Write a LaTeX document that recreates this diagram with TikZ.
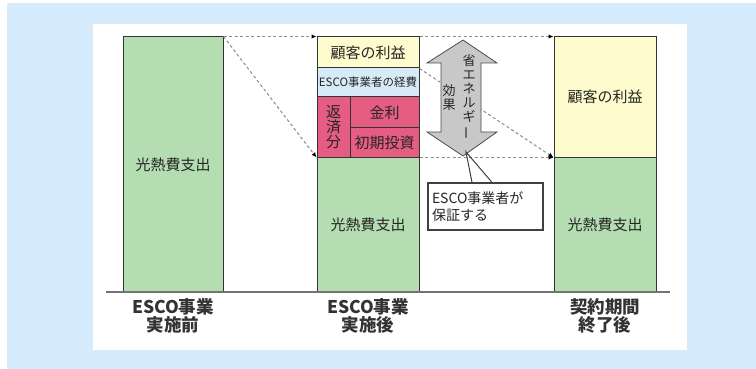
\documentclass[tikz,border=0pt]{standalone}
\usepackage{fontspec}
\usepackage{graphicx}
\setmainfont{Noto Sans CJK JP}
\usetikzlibrary{positioning,arrows.meta,calc}

\definecolor{bgblue}{RGB}{214,236,252}
\definecolor{bargreen}{RGB}{181,221,178}
\definecolor{custyel}{RGB}{254,252,206}
\definecolor{escoblue}{RGB}{215,234,247}
\definecolor{pinkred}{RGB}{229,93,128}
\definecolor{arrowgray}{RGB}{200,200,200}

\tikzset{
    seg/.style={draw=black!80, line width=1pt, inner sep=0pt, text=black!85,
        font=\fontsize{15}{15}\selectfont},
    dashline/.style={draw=black!45, line width=1pt, dash pattern=on 3pt off 2.5pt,
        -{Latex[length=5pt,width=4.5pt,black]}},
    axislabel/.style={align=center, inner sep=0pt, text=black!80,
        font=\fontsize{17.5}{18}\selectfont\bfseries},
    arrowtext/.style={align=center, inner sep=0pt, text=black!85,
        font=\fontsize{13}{14}\selectfont},
    callbox/.style={draw=black!75, line width=1.3pt, fill=white, inner sep=4pt,
        align=left, text width=107pt, minimum height=47pt, text=black!85,
        font=\fontsize{14}{17}\selectfont},
}

\begin{document}
\begin{tikzpicture}[x=1pt, y=-1pt]
    \useasboundingbox (0,0) rectangle (756,369);
    \fill[white] (0,0) rectangle (756,369);
    \fill[bgblue] (7,3) rectangle (756,369);
    \fill[white] (93,24) rectangle (687,350);

    % before
    \node[seg, fill=bargreen, minimum width=100pt, minimum height=255pt] (pre) at (173,164.5) {光熱費支出};

    % after
    \node[seg, fill=custyel, minimum width=102pt, minimum height=31pt] (myel) at (368,52.5) {顧客の利益};
    \node[seg, fill=escoblue, minimum width=102pt, minimum height=29pt,
        font=\fontsize{11.5}{12}\selectfont] (mesco) at (368,82.5) {ESCO事業者の経費};
    \node[seg, fill=pinkred, minimum width=33pt, minimum height=60pt, align=center] (mrep) at (333.5,127) {返\\済\\分};
    \node[seg, fill=pinkred, minimum width=69pt, minimum height=31pt] (mint) at (384.5,112.5) {金利};
    \node[seg, fill=pinkred, minimum width=69pt, minimum height=29pt] (minv) at (384.5,142.5) {初期投資};
    \node[seg, fill=bargreen, minimum width=102pt, minimum height=135pt] (mgrn) at (368,224.5) {光熱費支出};

    % end of contract
    \node[seg, fill=custyel, minimum width=102pt, minimum height=120pt] (ryel) at (605,97) {顧客の利益};
    \node[seg, fill=bargreen, minimum width=102pt, minimum height=135pt] (rgrn) at (605,224.5) {光熱費支出};

    \draw[line width=1.5pt, black!55] (106,292) -- (670,292);

    \node[axislabel, below=6pt of pre.south] (lpre) {ESCO事業\\実施前};
    \node[axislabel, below=6pt of mgrn.south] (lpost) {ESCO事業\\実施後};
    \node[axislabel, below=6pt of rgrn.south] (lend) {契約期間\\終了後};

    \draw[dashline] (pre.north east) -- (myel.north west);
    \draw[dashline] (myel.north east) -- (ryel.north west);
    \draw[dashline] (pre.north east) -- (mrep.south west);
    \draw[dashline] (myel.south east) -- (ryel.south west);
    \draw[dashline] (minv.south east) -- (ryel.south west);

    % energy saving arrow
    \filldraw[fill=arrowgray, draw=black!70, line width=0.8pt]
        (463,40) -- (497,63) -- (481,63) -- (481,132) -- (497,132) -- (463,156)
        -- (427,132) -- (441,132) -- (441,63) -- (427,63) -- cycle;
    \coordinate (tip) at (466,152);
    \node[arrowtext] (save) at (469,97) {省\\エ\\ネ\\ル\\ギ\\\rotatebox[origin=c]{90}{ー}};
    \node[arrowtext] (eff) at (449,98) {効\\果};

    \node[callbox] (guar) at (485.5,206.5) {ESCO事業者が\\保証する};
    \draw[black!75, line width=1pt] ($(guar.north)+(-13.5pt,0)$) -- (tip) -- ($(guar.north)+(6.5pt,0)$);
\end{tikzpicture}
\end{document}
